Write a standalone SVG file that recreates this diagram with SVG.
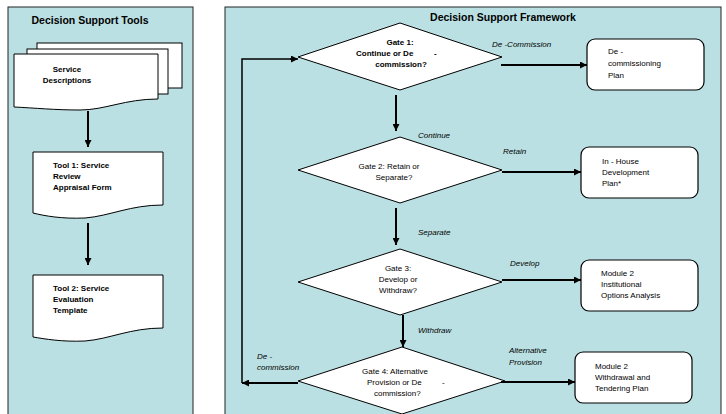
<svg xmlns="http://www.w3.org/2000/svg" width="726" height="414" viewBox="0 0 726 414">
<defs>
<marker id="ah" viewBox="0 0 10 10" refX="10" refY="5" markerWidth="8" markerHeight="7" markerUnits="userSpaceOnUse" orient="auto">
<path d="M0,0 L10,5 L0,10 z" fill="#000"/>
</marker>
<style>
.panel{fill:#BBE0E3;stroke:#222;stroke-width:1}
.shape{fill:#fff;stroke:#000;stroke-width:1}
.box{fill:#fff;stroke:#000;stroke-width:1.2}
.title{font-family:"Liberation Sans",Arial,sans-serif;font-size:10.5px;font-weight:bold;fill:#000}
.b{font-family:"Liberation Sans",Arial,sans-serif;font-size:8px;font-weight:bold;fill:#000}
.r{font-family:"Liberation Sans",Arial,sans-serif;font-size:8px;fill:#000}
.i{font-family:"Liberation Sans",Arial,sans-serif;font-size:8px;font-style:italic;fill:#000}
.arr{fill:none;stroke:#000;stroke-width:2;marker-end:url(#ah)}
.loop{fill:none;stroke:#000;stroke-width:1.5}
</style>
</defs>
<rect width="726" height="414" fill="#fff"/>
<g id="panel-tools">
<rect class="panel" x="8" y="7" width="185" height="420"/>
<text class="title" x="90" y="24" text-anchor="middle">Decision Support Tools</text>
</g>
<g id="panel-framework">
<rect class="panel" x="225" y="7" width="496" height="420"/>
<text class="title" x="503" y="21" text-anchor="middle">Decision Support Framework</text>
</g>
<g id="service-descriptions">
<rect class="shape" x="37" y="43" width="145" height="45"/>
<rect class="shape" x="27" y="49" width="141" height="45"/>
<path class="shape" d="M14,54 H158 V99 C125,99 105,110 80,110 C55,110 35,108 14,107 Z"/>
<text class="b" x="67" y="72" text-anchor="middle">Service</text>
<text class="b" x="67" y="83" text-anchor="middle">Descriptions</text>
</g>
<g id="tool1">
<path class="shape" d="M33,152 H163 V205 C130,205 110,216 85,218 C62,219 45,216 33,213 Z"/>
<text class="b" x="53" y="168">Tool 1: Service</text>
<text class="b" x="53" y="179">Review</text>
<text class="b" x="53" y="190">Appraisal Form</text>
</g>
<g id="tool2">
<path class="shape" d="M33,275 H163 V328 C130,328 110,339 85,341 C62,342 45,339 33,337 Z"/>
<text class="b" x="53" y="291">Tool 2: Service</text>
<text class="b" x="53" y="302">Evaluation</text>
<text class="b" x="53" y="313">Template</text>
</g>
<g id="gate1">
<polygon class="shape" points="298,57 400,23 502,57 400,90"/>
<text class="b" x="400" y="45" text-anchor="middle">Gate 1:</text>
<text class="b" x="356" y="56">Continue or De</text>
<text class="b" x="434" y="56">-</text>
<text class="b" x="401" y="67" text-anchor="middle">commission?</text>
</g>
<g id="gate2">
<polygon class="shape" points="298,170 400,137 502,170 400,203"/>
<text class="r" x="389" y="169" text-anchor="middle">Gate 2: Retain or</text>
<text class="r" x="394" y="180" text-anchor="middle">Separate?</text>
</g>
<g id="gate3">
<polygon class="shape" points="298,282 400,249 502,282 400,315"/>
<text class="r" x="398" y="271" text-anchor="middle">Gate 3:</text>
<text class="r" x="398" y="282" text-anchor="middle">Develop or</text>
<text class="r" x="398" y="293" text-anchor="middle">Withdraw?</text>
</g>
<g id="gate4">
<polygon class="shape" points="298,381 402,347 505,381 402,414"/>
<text class="r" x="395" y="374" text-anchor="middle">Gate 4: Alternative</text>
<text class="r" x="367" y="385">Provision or De</text>
<text class="r" x="442" y="385">-</text>
<text class="r" x="374" y="396">commission?</text>
</g>
<g id="decommissioning-plan">
<rect class="box" x="587" y="39" width="117" height="51" rx="8"/>
<text class="r" x="608" y="54">De -</text>
<text class="r" x="608" y="66">commissioning</text>
<text class="r" x="608" y="78">Plan</text>
</g>
<g id="inhouse-plan">
<rect class="box" x="581" y="147" width="117" height="51" rx="8"/>
<text class="r" x="602" y="164">In - House</text>
<text class="r" x="602" y="175">Development</text>
<text class="r" x="602" y="186">Plan*</text>
</g>
<g id="institutional-options">
<rect class="box" x="581" y="260" width="117" height="51" rx="8"/>
<text class="r" x="601" y="276">Module 2</text>
<text class="r" x="601" y="287">Institutional</text>
<text class="r" x="601" y="298">Options Analysis</text>
</g>
<g id="withdrawal-tendering">
<rect class="box" x="575" y="352" width="117" height="51" rx="8"/>
<text class="r" x="595" y="369">Module 2</text>
<text class="r" x="595" y="380">Withdrawal and</text>
<text class="r" x="595" y="391">Tendering Plan</text>
</g>
<g id="connectors">
<path class="arr" d="M88,111 V147"/>
<path class="arr" d="M88,223 V265"/>
<path class="arr" d="M396,95 V131"/>
<path class="arr" d="M396,208 V245"/>
<path class="arr" d="M403,315 V347"/>
<path class="arr" d="M501,65 H587"/>
<path class="arr" d="M502,172 H581"/>
<path class="arr" d="M502,280 H581"/>
<path class="arr" d="M501,382 H575"/>
<path class="arr" d="M298,383 H242"/>
<path class="loop" d="M242,383 V59 H292"/>
<path class="arr" d="M290,59 H298" style="stroke-width:1.5"/>
<text class="i" x="418" y="138">Continue</text>
<text class="i" x="418" y="235">Separate</text>
<text class="i" x="418" y="333">Withdraw</text>
<text class="i" x="492" y="47">De -Commission</text>
<text class="i" x="503" y="154">Retain</text>
<text class="i" x="510" y="266">Develop</text>
<text class="i" x="509" y="353">Alternative</text>
<text class="i" x="509" y="365">Provision</text>
<text class="i" x="257" y="359">De -</text>
<text class="i" x="257" y="370">commission</text>
</g>
</svg>
